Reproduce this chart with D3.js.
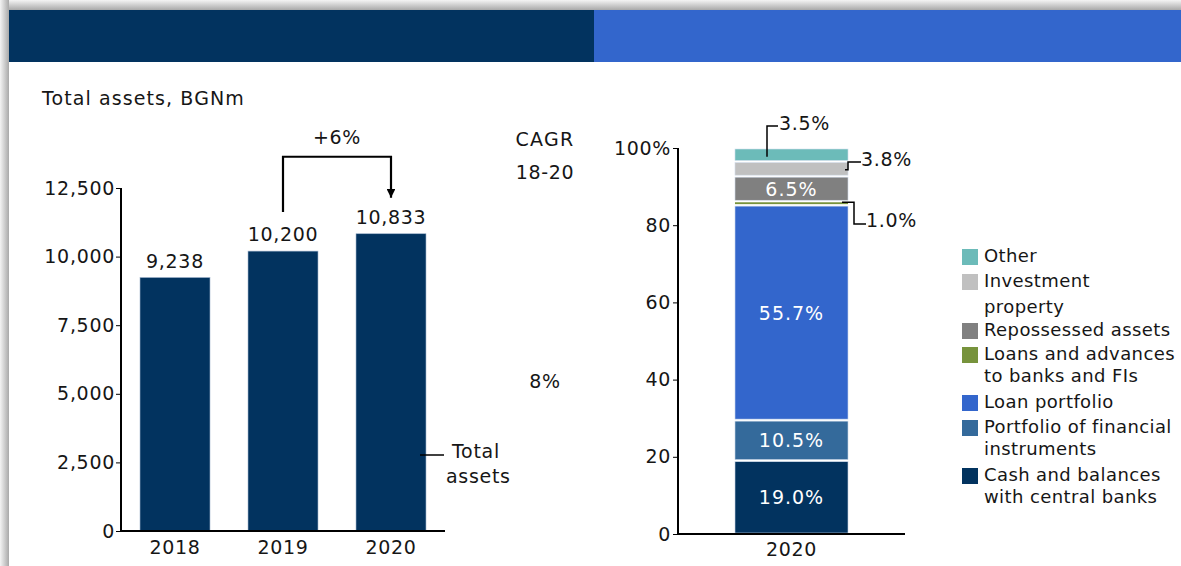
<!DOCTYPE html>
<html>
<head>
<meta charset="utf-8">
<script src="https://cdn.jsdelivr.net/npm/d3@7"></script>
<style>
	body { margin: 0; background: #fff; }
	svg text { font-family: "DejaVu Sans", Verdana, sans-serif; fill: #161616; letter-spacing: 0.7px; }
</style>
</head>
<body>
<div id="chart"></div>
<script>
/* total assets + asset structure */

// left chart data
var years = ["2018", "2019", "2020"];
var totalAssets = [9238, 10200, 10833];
var leftTicks = [0, 2500, 5000, 7500, 10000, 12500];
var cagrLabel = "+6%";
var cagrValue = "8%";

// right chart data (bottom -> top)
var structureYear = ["2020"];
var segNames = ["Cash and balances\nwith central banks", "Portfolio of financial\ninstruments", "Loan portfolio",
	"Loans and advances\nto banks and FIs", "Repossessed assets", "Investment\nproperty", "Other"];
var segShares = [19.0, 10.5, 55.7, 1.0, 6.5, 3.8, 3.5];
var segColors = ["#02335f", "#346a9b", "#3366cc", "#77933c", "#808080", "#c0c0c0", "#6cbbb9"];
var rightTicks = [0, 20, 40, 60, 80, 100];

var W = 1181, H = 566;

var svg = d3.select("#chart").append("svg")
	.attr("width", W)
	.attr("height", H);

// slide shadow + header band
var defs = svg.append("defs");
var gTop = defs.append("linearGradient").attr("id", "shTop").attr("x1", 0).attr("y1", 0).attr("x2", 0).attr("y2", 1);
gTop.append("stop").attr("offset", 0).attr("stop-color", "#f4f4f4");
gTop.append("stop").attr("offset", 1).attr("stop-color", "#a9a9a9");
var gLeft = defs.append("linearGradient").attr("id", "shLeft").attr("x1", 0).attr("y1", 0).attr("x2", 1).attr("y2", 0);
gLeft.append("stop").attr("offset", 0).attr("stop-color", "#f4f4f4");
gLeft.append("stop").attr("offset", 1).attr("stop-color", "#a9a9a9");

svg.append("rect").attr("x", 0).attr("y", 0).attr("width", W).attr("height", 10).attr("fill", "url(#shTop)");
svg.append("rect").attr("x", 0).attr("y", 0).attr("width", 9).attr("height", H).attr("fill", "url(#shLeft)");
svg.append("rect").attr("x", 9).attr("y", 10).attr("width", 585).attr("height", 52).attr("fill", "#02335f");
svg.append("rect").attr("x", 594).attr("y", 10).attr("width", W - 594).attr("height", 52).attr("fill", "#3366cc");

svg.append("text")
	.attr("x", 42).attr("y", 105)
	.style("font-size", "19px")
	.style("letter-spacing", "1.1px")
	.text("Total assets, BGNm");

/* ---------- left chart ---------- */
var yL = d3.scaleLinear().domain([0, 12500]).range([531, 188]);
var xL = d3.scaleBand().domain(years).range([121, 445]).paddingInner(0.352).paddingOuter(0.176);

var gl = svg.append("g");

gl.selectAll(".bar")
	.data(totalAssets)
	.enter()
	.append("rect")
	.attr("x", (d, i) => xL(years[i]))
	.attr("y", d => yL(d))
	.attr("width", xL.bandwidth())
	.attr("height", d => yL(0) - yL(d))
	.attr("fill", "#02335f")
	.attr("stroke", "#9fb3cc")
	.attr("stroke-width", 0.6);

gl.selectAll(".val")
	.data(totalAssets)
	.enter()
	.append("text")
	.attr("x", (d, i) => xL(years[i]) + xL.bandwidth() / 2)
	.attr("y", d => yL(d) - 10)
	.attr("text-anchor", "middle")
	.style("font-size", "19px")
	.text(d => d3.format(",")(d));

var axL = gl.append("g")
	.attr("transform", "translate(121,0)")
	.call(d3.axisLeft(yL).tickValues(leftTicks).tickFormat(d3.format(",")).tickSize(5).tickPadding(1));
axL.select(".domain").attr("stroke-width", 2).attr("d", "M0," + yL(12500) + "V" + yL(0));
axL.selectAll("text").style("font-size", "19px").attr("fill", "#161616");

gl.append("line")
	.attr("x1", 120).attr("x2", 445)
	.attr("y1", yL(0)).attr("y2", yL(0))
	.attr("stroke", "#000").attr("stroke-width", 2);

gl.selectAll(".yr")
	.data(years)
	.enter()
	.append("text")
	.attr("x", d => xL(d) + xL.bandwidth() / 2)
	.attr("y", yL(0) + 23)
	.attr("text-anchor", "middle")
	.style("font-size", "19px")
	.text(d => d);

// growth arrow 2019 -> 2020
var ax1 = xL(years[1]) + xL.bandwidth() / 2,
	ax2 = xL(years[2]) + xL.bandwidth() / 2,
	aTop = yL(totalAssets[2]) - 77;
defs.append("marker").attr("id", "arr").attr("viewBox", "0 0 10 10")
	.attr("refX", 10).attr("refY", 5).attr("markerWidth", 4).attr("markerHeight", 4)
	.attr("orient", "auto")
	.append("path").attr("d", "M0,0L10,5L0,10z").attr("fill", "#000");
gl.append("path")
	.attr("d", `M${ax1},${yL(totalAssets[1]) - 39}V${aTop}H${ax2}V${yL(totalAssets[2]) - 36}`)
	.attr("fill", "none").attr("stroke", "#000").attr("stroke-width", 2.2)
	.attr("marker-end", "url(#arr)");
gl.append("text")
	.attr("x", (ax1 + ax2) / 2).attr("y", aTop - 13)
	.attr("text-anchor", "middle")
	.style("font-size", "19px")
	.text(cagrLabel);

// CAGR column
gl.append("text").attr("x", 545).attr("y", 146).attr("text-anchor", "middle").style("font-size", "19px").style("letter-spacing", "1.3px").text("CAGR");
gl.append("text").attr("x", 545).attr("y", 179).attr("text-anchor", "middle").style("font-size", "19px").text("18-20");
gl.append("text").attr("x", 545).attr("y", 388).attr("text-anchor", "middle").style("font-size", "19px").text(cagrValue);

// series label
gl.append("line").attr("x1", 420).attr("x2", 444).attr("y1", 455).attr("y2", 455).attr("stroke", "#000").attr("stroke-width", 1.5);
gl.append("text").attr("x", 452).attr("y", 458).style("font-size", "19px").text("Total");
gl.append("text").attr("x", 446).attr("y", 483).style("font-size", "19px").text("assets");

/* ---------- right chart ---------- */
var yR = d3.scaleLinear().domain([0, 100]).range([534, 148]);
var xR = d3.scaleBand().domain(structureYear).range([678, 905]).paddingInner(0).paddingOuter(0.504);

var stackData = [];
var acc = 0;
segShares.forEach((v, i) => {
	stackData.push({ name: segNames[i], v: v, y0: acc, y1: acc + v, color: segColors[i] });
	acc += v;
});

var gr = svg.append("g");

gr.selectAll(".seg")
	.data(stackData)
	.enter()
	.append("rect")
	.attr("x", xR("2020"))
	.attr("y", d => yR(d.y1) + 1)
	.attr("width", xR.bandwidth())
	.attr("height", d => Math.max(yR(d.y0) - yR(d.y1) - 2, 1))
	.attr("fill", d => d.color)
	.attr("stroke", d => d.v < 2 ? "none" : "#d6e0ee")
	.attr("stroke-width", 0.6);

// labels inside the big segments
var cx = xR("2020") + xR.bandwidth() / 2;
gr.selectAll(".inlab")
	.data(stackData.filter(d => d.v > 5))
	.enter()
	.append("text")
	.attr("x", cx)
	.attr("y", d => (yR(d.y0) + yR(d.y1)) / 2 + 7)
	.attr("text-anchor", "middle")
	.style("font-size", "19px")
	.style("letter-spacing", "1px")
	.style("fill", "#fff")
	.text(d => d.v.toFixed(1) + "%");

// call-out labels for the small segments
var xr = xR("2020") + xR.bandwidth();
var other = stackData[6], inv = stackData[5], loans = stackData[3];
var lead = gr.append("g").attr("fill", "none").attr("stroke", "#000").attr("stroke-width", 1.5);
lead.append("path").attr("d", `M767,${yR(other.y0 + other.v / 2) + 2}V126H778`);
lead.append("path").attr("d", `M${xr - 3},${yR(inv.y0 + inv.v / 2) + 1}H848V162H861`);
lead.append("path").attr("d", `M${xr - 6},${yR(loans.y1) + 1}H854V224H866`);

function pct(d) { return d.v.toFixed(1) + "%"; }
gr.append("text").attr("x", 779).attr("y", 130).style("font-size", "19px").text(pct(other));
gr.append("text").attr("x", 861).attr("y", 166).style("font-size", "19px").text(pct(inv));
gr.append("text").attr("x", 866).attr("y", 227).style("font-size", "19px").text(pct(loans));

var axR = gr.append("g")
	.attr("transform", "translate(678,0)")
	.call(d3.axisLeft(yR).tickValues(rightTicks).tickFormat(d => d === 100 ? "100%" : d).tickSize(5).tickPadding(2));
axR.select(".domain").attr("stroke-width", 2).attr("d", "M0," + yR(100) + "V" + yR(0));
axR.selectAll("text").style("font-size", "19px").attr("fill", "#161616");

gr.append("line")
	.attr("x1", 677).attr("x2", 905)
	.attr("y1", yR(0)).attr("y2", yR(0))
	.attr("stroke", "#000").attr("stroke-width", 2);

gr.append("text")
	.attr("x", cx).attr("y", yR(0) + 22)
	.attr("text-anchor", "middle")
	.style("font-size", "19px")
	.text("2020");

// legend (top -> bottom)
var legendRows = [
	{ i: 6, y: 249 }, { i: 5, y: 274 }, { i: 4, y: 323 }, { i: 3, y: 347 },
	{ i: 2, y: 395 }, { i: 1, y: 420 }, { i: 0, y: 468 }
];
var lg = gr.selectAll(".lg")
	.data(legendRows)
	.enter()
	.append("g")
	.attr("transform", d => `translate(962,${d.y})`);
lg.append("rect")
	.attr("width", 16).attr("height", 16)
	.attr("fill", d => segColors[d.i]);
lg.append("text")
	.attr("x", 22)
	.style("font-size", "18px")
	.style("letter-spacing", "0.4px")
	.selectAll("tspan")
	.data(d => segNames[d.i].split("\n"))
	.enter()
	.append("tspan")
	.attr("x", 22)
	.attr("y", (t, j) => 13 + j * 22)
	.text(t => t);
// Investment property wraps with extra leading
lg.filter(d => d.i === 5).selectAll("tspan").attr("y", (t, j) => 13 + j * 26);
</script>
</body>
</html>
